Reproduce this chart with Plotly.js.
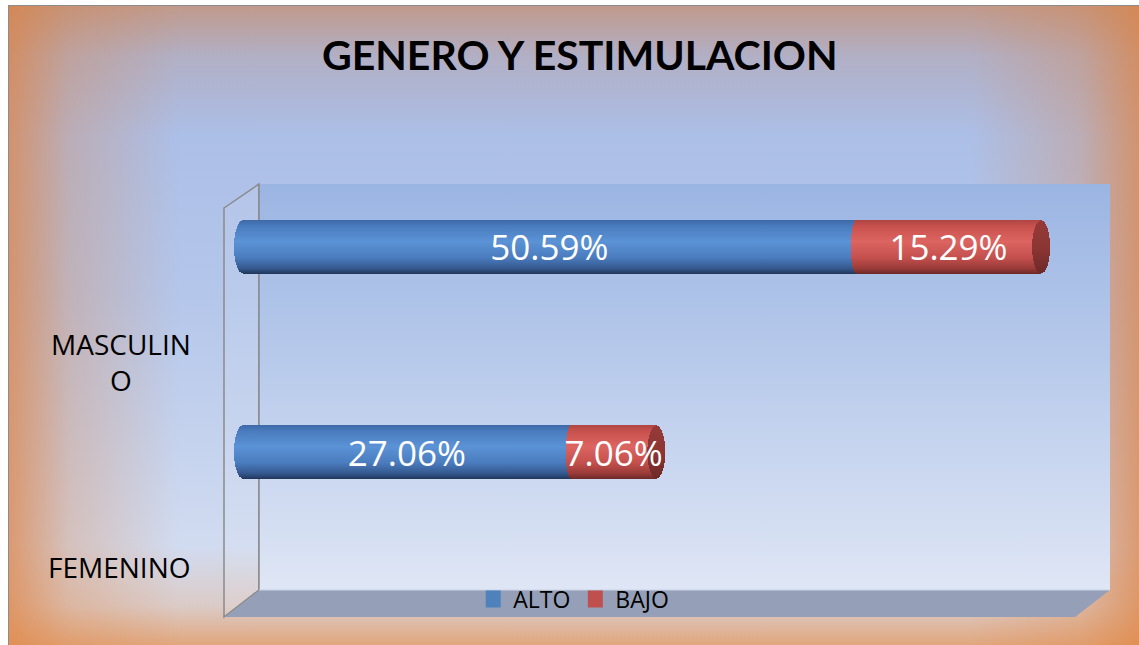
<!DOCTYPE html>
<html>
<head>
<meta charset="utf-8">
<script src="https://cdn.plot.ly/plotly-3.0.1.min.js"></script>
<style>
  html, body { margin: 0; padding: 0; background: #ffffff; width: 1139px; height: 645px; overflow: hidden; }
  #frame {
    position: absolute; left: 8px; top: 5px; width: 1131px; height: 640px;
    border-left: 1px solid #8c8c8c; border-top: 1px solid #8c8c8c;
    background:
      linear-gradient(to bottom, rgba(214,128,66,0.55) 0px, rgba(214,128,66,0.2) 50px, rgba(214,128,66,0) 130px),
      linear-gradient(to top, rgba(226,138,72,0.7) 0px, rgba(226,138,72,0.25) 40px, rgba(226,138,72,0) 100px),
      linear-gradient(to right, rgba(222,132,70,0.75) 0px, rgba(222,132,70,0.3) 60px, rgba(222,132,70,0) 170px),
      linear-gradient(to left, rgba(222,132,70,0.75) 0px, rgba(222,132,70,0.3) 60px, rgba(222,132,70,0) 170px),
      linear-gradient(to bottom, #a6b9e5 0%, #b4c6ea 45%, #dde4f3 100%);
  }
  #deco { position: absolute; left: 0; top: 0; }
  #chart { position: absolute; left: 0; top: 0; width: 1139px; height: 645px; }
</style>
</head>
<body>
<div id="frame"></div>
<svg id="deco" width="1139" height="645" xmlns="http://www.w3.org/2000/svg">
  <defs>
    <linearGradient id="wallGrad" x1="0" y1="0" x2="0" y2="1">
      <stop offset="0" stop-color="#9bb5e3"/>
      <stop offset="0.5" stop-color="#bccdec"/>
      <stop offset="1" stop-color="#dfe6f5"/>
    </linearGradient>
  </defs>
  <polygon points="224,208 259,184 259,590 224,617" fill="rgba(255,255,255,0.08)" stroke="#8a8a8a" stroke-width="1.5"/>
  <rect x="259" y="184" width="851" height="406" fill="url(#wallGrad)"/>
  <line x1="259" y1="184" x2="259" y2="590" stroke="#8a8a8a" stroke-width="1.5"/>
  <polygon points="259,590 1110,590 1075,617 224,617" fill="#95a0b8"/>
  <line x1="259" y1="590" x2="1110" y2="590" stroke="#c9d3e6" stroke-width="1"/>
  <line x1="224" y1="617" x2="259" y2="590" stroke="#8a8a8a" stroke-width="1"/>
</svg>
<div id="chart"></div>
<script>
// ---- data ----
const categories = ['FEMENINO', 'MASCULINO'];
const categoryLabels = ['FEMENINO', 'MASCULIN<br>O'];
const seriesNames = ['ALTO', 'BAJO'];
const alto = [0.2706, 0.5059];
const bajo = [0.0706, 0.1529];
const seriesColors = ['#4f81bd', '#c0504d'];

const pct = v => (v * 100).toFixed(2) + '%';

function barTrace(name, vals, color) {
  return {
    type: 'bar', orientation: 'h', name: name,
    y: categories, x: vals,
    text: vals.map(pct),
    textposition: 'inside', insidetextanchor: 'middle',
    constraintext: 'none', textangle: 0, cliponaxis: false,
    insidetextfont: { family: 'Open Sans', size: 35, color: '#ffffff' },
    marker: { color: color, line: { width: 0 } },
    width: 0.26, hoverinfo: 'skip'
  };
}

const data = [
  barTrace(seriesNames[0], alto, seriesColors[0]),
  barTrace(seriesNames[1], bajo, seriesColors[1])
];

const annotations = categories.map((c, i) => ({
  xref: 'paper', x: -0.059, xanchor: 'right',
  yref: 'y', y: i - 0.56, yanchor: 'middle',
  text: categoryLabels[i], showarrow: false, align: 'center',
  font: { family: 'Open Sans', size: 28, color: '#000000' }
}));

const layout = {
  width: 1139, height: 645,
  margin: { l: 243, r: 48, t: 184, b: 55, pad: 0 },
  paper_bgcolor: 'rgba(0,0,0,0)', plot_bgcolor: 'rgba(0,0,0,0)',
  barmode: 'stack',
  title: {
    text: 'GENERO Y ESTIMULACION',
    font: { family: 'Lato', size: 41, color: '#000000', weight: 700 },
    xref: 'container', x: 0.509, xanchor: 'center',
    yref: 'container', y: 0.913, yanchor: 'middle'
  },
  xaxis: { range: [0, 0.7], visible: false, fixedrange: true },
  yaxis: {
    type: 'category', categoryorder: 'array', categoryarray: categories,
    range: [-0.673, 1.307], showticklabels: false, showgrid: false,
    zeroline: false, showline: false, ticks: '', fixedrange: true
  },
  showlegend: true,
  legend: {
    orientation: 'h', x: 0.39, xanchor: 'center', y: -0.022, yanchor: 'middle',
    bgcolor: 'rgba(0,0,0,0)', traceorder: 'normal',
    font: { family: 'Open Sans', size: 23, color: '#000000' },
    itemsizing: 'constant', itemwidth: 30
  },
  annotations: annotations
};

const NS = 'http://www.w3.org/2000/svg';
function makeGrad(defs, id, stops) {
  const g = document.createElementNS(NS, 'linearGradient');
  g.setAttribute('id', id);
  g.setAttribute('x1', '0'); g.setAttribute('y1', '0');
  g.setAttribute('x2', '0'); g.setAttribute('y2', '1');
  stops.forEach(s => {
    const st = document.createElementNS(NS, 'stop');
    st.setAttribute('offset', s[0]);
    st.setAttribute('stop-color', s[1]);
    g.appendChild(st);
  });
  defs.appendChild(g);
}

Plotly.newPlot('chart', data, layout, { staticPlot: true, displayModeBar: false }).then(gd => {
  const svg = gd.querySelector('svg.main-svg');
  let defs = svg.querySelector('defs');
  if (!defs) { defs = document.createElementNS(NS, 'defs'); svg.insertBefore(defs, svg.firstChild); }
  makeGrad(defs, 'cylBlue', [[0, '#3e6aa8'], [0.12, '#4a7dc0'], [0.4, '#5b93d6'], [0.7, '#4a7cbe'], [0.9, '#35598f'], [1, '#22385e']]);
  makeGrad(defs, 'cylRed', [[0, '#b04643'], [0.12, '#c9524f'], [0.4, '#dc6461'], [0.7, '#c4504d'], [0.9, '#9a3b39'], [1, '#6e2a28']]);
  makeGrad(defs, 'capRed', [[0, '#963a38'], [0.5, '#8c3634'], [1, '#6c2927']]);
  makeGrad(defs, 'capBlue', [[0, '#3e6aa8'], [0.12, '#4a7dc0'], [0.4, '#5b93d6'], [0.7, '#4a7cbe'], [0.9, '#35598f'], [1, '#22385e']]);

  // legend swatches: enlarge slightly
  gd.querySelectorAll('.legend .legendpoints path').forEach(p => {
    p.setAttribute('d', 'M7.5,8.5H-7.5V-8.5H7.5Z');
  });

  const traces = gd.querySelectorAll('.barlayer .trace');
  traces.forEach((tr, ti) => {
    tr.querySelectorAll('.point').forEach(pt => {
      const path = pt.querySelector('path');
      if (!path) return;
      path.style.fill = ti === 0 ? 'url(#cylBlue)' : 'url(#cylRed)';
      const bb = path.getBBox();
      const cy = bb.y + bb.height / 2, ry = bb.height / 2;
      if (ti === 0) {
        const e = document.createElementNS(NS, 'ellipse');
        e.setAttribute('cx', bb.x); e.setAttribute('cy', cy);
        e.setAttribute('rx', 9); e.setAttribute('ry', ry);
        e.setAttribute('fill', 'url(#capBlue)');
        pt.insertBefore(e, path);
      } else {
        const l = document.createElementNS(NS, 'ellipse');
        l.setAttribute('cx', bb.x); l.setAttribute('cy', cy);
        l.setAttribute('rx', 5); l.setAttribute('ry', ry);
        l.setAttribute('fill', 'url(#cylRed)');
        pt.insertBefore(l, path);
        const r = document.createElementNS(NS, 'ellipse');
        r.setAttribute('cx', bb.x + bb.width); r.setAttribute('cy', cy);
        r.setAttribute('rx', 9); r.setAttribute('ry', ry);
        r.setAttribute('fill', 'url(#capRed)');
        const txt = pt.querySelector('text');
        if (txt) pt.insertBefore(r, txt); else pt.appendChild(r);
      }
    });
  });
});
</script>
</body>
</html>
